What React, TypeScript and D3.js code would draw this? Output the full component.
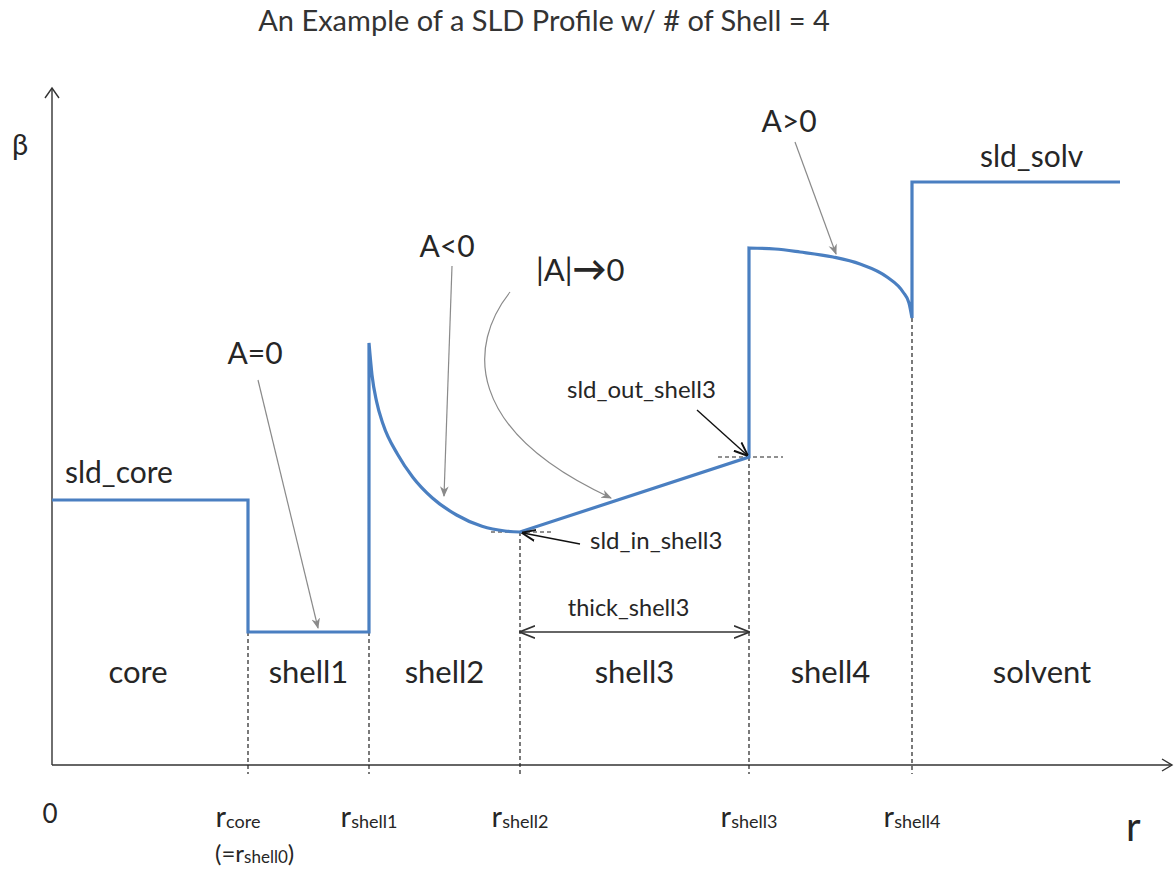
import React from 'react';
import * as d3 from 'd3';

// radial positions of the shell boundaries (r_core, r_shell1 .. r_shell4)
const boundaries = [1.96, 3.17, 4.68, 6.97, 8.6];
const tickNames = ['core', 'shell1', 'shell2', 'shell3', 'shell4'];
const regionNames = ['core', 'shell1', 'shell2', 'shell3', 'shell4', 'solvent'];
const rEnd = 10.68;
const rMax = 11.2;
const betaMax = 6.77;

const sldCore = 2.65;
const sldShell1 = 1.33;
const sldSolv = 5.83;

// shell2: A < 0
const shell2 = [
  [3.17, 4.22], [3.2, 3.9], [3.246, 3.634], [3.31, 3.41], [3.457, 3.105], [3.608, 2.878],
  [3.804, 2.67], [4.046, 2.5], [4.3, 2.387], [4.53, 2.34], [4.68, 2.33],
];
// shell3: |A| -> 0 (linear)
const shell3 = [[4.68, 2.33], [6.97, 3.08]];
// shell4: A > 0
const shell4 = [
  [6.97, 5.17], [7.23, 5.16], [7.48, 5.13], [7.81, 5.08], [8.08, 5.01],
  [8.35, 4.88], [8.51, 4.73], [8.57, 4.62], [8.6, 4.47],
];

const W = 1175;
const H = 872;
const FONT = 'Lato, "Open Sans", sans-serif';
const BLUE = '#4a7fc1';
const INK = '#262626';

export default function App() {
  const x = d3.scaleLinear().domain([0, rMax]).range([52, 1172]);
  const y = d3.scaleLinear().domain([0, betaMax]).range([765, 88]);

  const lin = d3.line<number[]>().x(d => x(d[0])).y(d => y(d[1]));
  const smooth = d3.line<number[]>().x(d => x(d[0])).y(d => y(d[1])).curve(d3.curveMonotoneX);

  const pieces = [
    lin([[0, sldCore], [boundaries[0], sldCore], [boundaries[0], sldShell1], [boundaries[1], sldShell1], shell2[0]]),
    smooth(shell2),
    lin([shell3[0], shell3[1], shell4[0]]),
    smooth(shell4),
    lin([shell4[shell4.length - 1], [boundaries[4], sldSolv], [rEnd, sldSolv]]),
  ];
  const profile = pieces.map((p, i) => (i === 0 ? p : (p || '').replace(/^M/, 'L'))).join('');

  // bottom value of the profile at each boundary (where the dashed guide starts)
  const guideTop = [sldShell1, sldShell1, shell2[shell2.length - 1][1], shell3[1][1], shell4[shell4.length - 1][1]];

  const regionEdges = [0, ...boundaries, rMax];

  return (
    <svg width={W} height={H} style={{ position: 'absolute', left: 0, top: 0, background: '#fff' }} fontFamily={FONT}>
      <defs>
        <marker id="grayHead" viewBox="0 0 10 10" refX="9" refY="5" markerWidth="9" markerHeight="9" orient="auto">
          <path d="M0,1 L10,5 L0,9 L3,5 z" fill="#8a8a8a" />
        </marker>
        <marker id="blackHead" viewBox="0 0 10 10" refX="9" refY="5" markerWidth="10" markerHeight="10" orient="auto">
          <path d="M0,1 L10,5 L0,9" fill="none" stroke="#111" strokeWidth="1.4" />
        </marker>
        <marker id="openHead" viewBox="0 0 10 10" refX="9" refY="5" markerWidth="12" markerHeight="12" orient="auto-start-reverse">
          <path d="M0,1 L10,5 L0,9" fill="none" stroke="#333" strokeWidth="1.2" />
        </marker>
      </defs>

      {/* title */}
      <text x={544} y={31} textAnchor="middle" fontSize={29} fill="#333">
        An Example of a SLD Profile w/ # of Shell = 4
      </text>

      {/* axes */}
      <line x1={x(0)} y1={y(0)} x2={x(0)} y2={y(betaMax)} stroke="#333" strokeWidth={1.4} />
      <path d={`M${x(0) - 7},${y(betaMax) + 10} L${x(0)},${y(betaMax)} L${x(0) + 7},${y(betaMax) + 10}`} fill="none" stroke="#333" strokeWidth={1.4} />
      <line x1={x(0)} y1={y(0)} x2={x(rMax)} y2={y(0)} stroke="#333" strokeWidth={1.4} />
      <path d={`M${x(rMax) - 10},${y(0) - 6} L${x(rMax)},${y(0)} L${x(rMax) - 10},${y(0) + 6}`} fill="none" stroke="#333" strokeWidth={1.4} />

      <text x={12} y={155} fontSize={29} fill={INK}>β</text>
      <text x={1126} y={841} fontSize={40} fill={INK}>r</text>

      {/* dashed boundary guides */}
      {boundaries.map((b, i) => (
        <line key={'g' + i} x1={x(b)} x2={x(b)} y1={y(guideTop[i])} y2={y(0) + 9} stroke="#222" strokeWidth={1.2} strokeDasharray="4,3" />
      ))}
      <line x1={x(shell3[0][0]) - 29} x2={x(shell3[0][0]) + 33} y1={y(shell3[0][1])} y2={y(shell3[0][1])} stroke="#222" strokeWidth={1.2} strokeDasharray="4,3" />
      <line x1={x(shell3[1][0]) - 31} x2={x(shell3[1][0]) + 34} y1={y(shell3[1][1])} y2={y(shell3[1][1])} stroke="#222" strokeWidth={1.2} strokeDasharray="4,3" />

      {/* profile */}
      <path d={profile} fill="none" stroke={BLUE} strokeWidth={3.2} strokeLinejoin="miter" />

      {/* thickness arrow */}
      <line x1={x(boundaries[2]) + 1} x2={x(boundaries[3]) - 1} y1={y(sldShell1)} y2={y(sldShell1)} stroke="#333" strokeWidth={1.3}
        markerStart="url(#openHead)" markerEnd="url(#openHead)" />
      <text x={(x(boundaries[2]) + x(boundaries[3])) / 2 - 6} y={616} textAnchor="middle" fontSize={23.5} fill={INK}>thick_shell3</text>

      {/* annotations */}
      <line x1={258} y1={380} x2={318} y2={628} stroke="#8a8a8a" strokeWidth={1.2} markerEnd="url(#grayHead)" />
      <text x={255} y={364} textAnchor="middle" fontSize={30} fill={INK}>A=0</text>

      <line x1={452} y1={266} x2={444} y2={496} stroke="#8a8a8a" strokeWidth={1.2} markerEnd="url(#grayHead)" />
      <text x={447} y={257} textAnchor="middle" fontSize={30} fill={INK}>A&lt;0</text>

      <path d="M510,292 C468,345 464,430 611,498" fill="none" stroke="#8a8a8a" strokeWidth={1.2} markerEnd="url(#grayHead)" />
      <text x={536} y={281} fontSize={31} fill={INK}>|A|<tspan fontSize={34} fontWeight="bold">→</tspan>0</text>

      <line x1={795} y1={142} x2={836} y2={254} stroke="#8a8a8a" strokeWidth={1.2} markerEnd="url(#grayHead)" />
      <text x={789} y={132} textAnchor="middle" fontSize={30} fill={INK}>A&gt;0</text>

      <line x1={697} y1={410} x2={747} y2={455} stroke="#111" strokeWidth={1.4} markerEnd="url(#blackHead)" />
      <text x={567} y={398} fontSize={24} fill={INK}>sld_out_shell3</text>

      <line x1={580} y1={544} x2={523} y2={533} stroke="#111" strokeWidth={1.4} markerEnd="url(#blackHead)" />
      <text x={590} y={549} fontSize={24} fill={INK}>sld_in_shell3</text>

      <text x={65} y={483} fontSize={30} fill={INK}>sld_core</text>
      <text x={980} y={167} fontSize={30} fill={INK}>sld_solv</text>

      {/* region names */}
      {regionNames.map((name, i) => (
        <text key={'n' + i} x={(x(regionEdges[i]) + x(regionEdges[i + 1])) / 2 + (i === 0 ? -12 : 0)} y={683}
          textAnchor="middle" fontSize={31} fill={INK}>{name}</text>
      ))}

      {/* boundary tick labels */}
      <text x={x(0) - 2} y={823} textAnchor="middle" fontSize={26} fill={INK}>0</text>
      {boundaries.map((b, i) => (
        <text key={'t' + i} x={x(b) + (i === 0 ? -10 : 0)} y={827} textAnchor="middle" fontSize={29} fill={INK}>
          r<tspan fontSize={18} dy={1}>{tickNames[i]}</tspan>
        </text>
      ))}
      <text x={215} y={862} fontSize={24} fill={INK}>
        (=r<tspan fontSize={17} dy={1}>shell0</tspan><tspan dy={-1}>)</tspan>
      </text>
    </svg>
  );
}
